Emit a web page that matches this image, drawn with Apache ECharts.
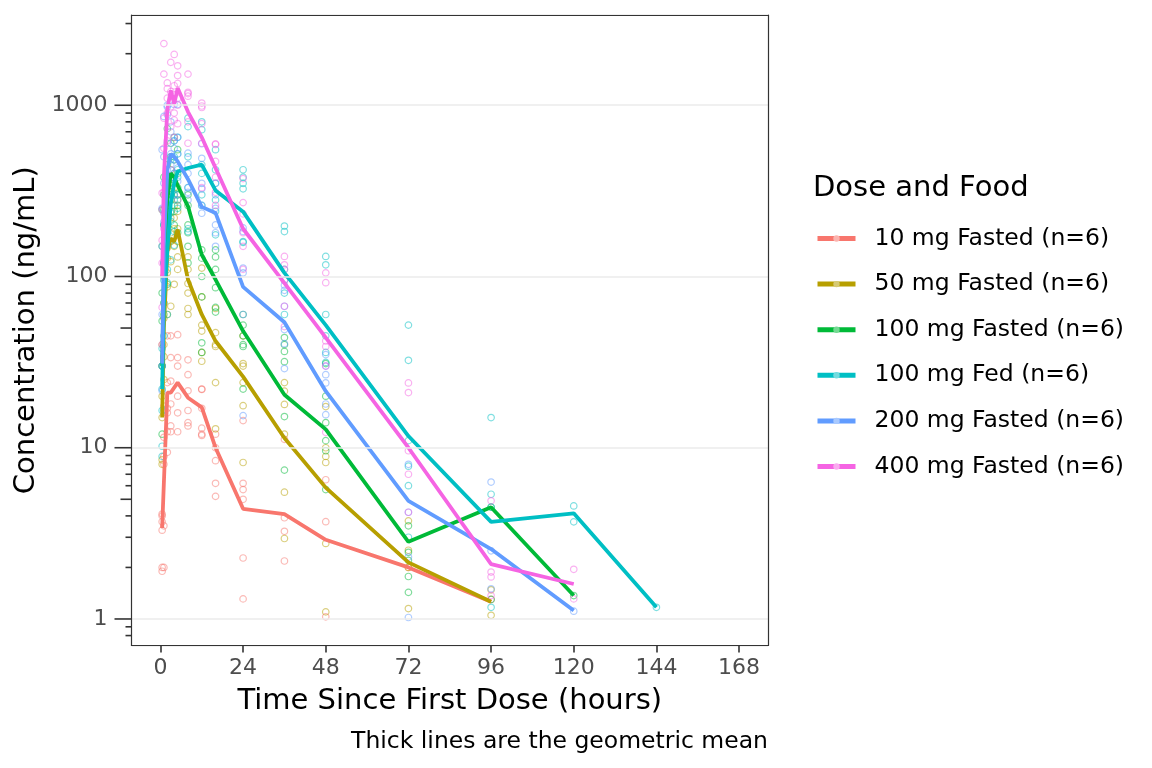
<!DOCTYPE html>
<html>
<head>
<meta charset="utf-8">
<script src="https://cdn.jsdelivr.net/npm/echarts@6/dist/echarts.min.js"></script>
<style>
  html, body { margin: 0; padding: 0; background: #fff; }
  #chart { width: 1152px; height: 768px; }
</style>
</head>
<body>
<div id="chart"></div>
<script>
// nominal sampling times (hours)
const sampleTimes = [0.5, 1, 2, 3, 4, 5, 8, 12, 16, 24, 36, 48, 72, 96, 120, 144];

const groupNames = [
  '10 mg Fasted (n=6)', '50 mg Fasted (n=6)', '100 mg Fasted (n=6)',
  '100 mg Fed (n=6)', '200 mg Fasted (n=6)', '400 mg Fasted (n=6)'
];
const groupColors = ['#F8766D', '#B79F00', '#00BA38', '#00BFC4', '#619CFF', '#F564E3'];

// geometric means, one value per sample time (null = no mean drawn there)
const mean10   = [3.4, null, 21, 21, null, 24, 19.6, 17.2, 10, 4.4, 4.1, 2.9, 2.0, 1.26, null, null];
const mean50   = [15, 50, 140, 167, 160, 188, 96, 60, 42, 26, 11.4, 5.85, 2.14, 1.26, null, null];
const mean100  = [30, 100, 280, 400, 380, 340, 257, 134, 96, 48, 20.4, 12.8, 2.82, 4.49, 1.37, null];
const mean100fed = [22, 70, 140, 268, 351, 410, 430, 450, 318, 239, 105, 52, 11.7, 3.69, 4.14, 1.17];
const mean200  = [31, 150, 420, 520, 500, 470, 370, 255, 235, 87, 54, 21.4, 4.89, 2.56, 1.12, null];
const mean400  = [100, 380, 950, 1220, 1020, 1260, 915, 650, 430, 190, 91.5, 44, 10, 2.09, 1.6, null];

// individual concentrations, one row per sample time
const obs10 = [
  [4.1, 3.7, 3.3, 2.0, 1.9, 4.0],
  [8.9, 11.5, 17.5, 3.5, 8.0, 2.0],
  [17, 45, 12.4, 9.4, 24, 16],
  [45, 33.6, 24.5, 13.4, 18, 12.4],
  [],
  [45.7, 33.6, 12.4, 20, 16, 30],
  [32.6, 26.7, 21.5, 16.5, 14, 13.4],
  [21.9, 12, 11.8, 17, 22, 13],
  [8.4, 6.2, 5.2, 12, 10],
  [14.4, 6.2, 5.7, 5.0, 2.27, 1.31],
  [11.2, 3.9, 3.25, 2.18],
  [6.5, 3.7, 1.03],
  [2.0],
  [1.3],
  [],
  []
];
const obs50 = [
  [8.0, 8.5, 20, 40, 15, 30],
  [57, 40, 34, 100, 70, 25],
  [147, 128, 105, 87, 200, 60],
  [220, 122, 67, 160, 300, 180],
  [220, 150, 260, 90, 190, 330],
  [190, 240, 130, 280, 160, 110],
  [110, 91, 65, 130, 80, 60],
  [112, 76, 52, 48, 36, 32],
  [47, 40, 24, 12.9, 39, 65],
  [31, 24, 17.6, 8.2, 30, 45],
  [24, 21.4, 17.9, 5.5, 2.95, 12],
  [17.4, 10, 8.9, 8.2, 2.76, 1.1],
  [3.74, 2.52, 1.15, 2.0],
  [1.48, 1.05],
  [],
  []
];
const obs100 = [
  [12, 245, 30, 80, 150, 55],
  [380, 120, 245, 60, 200, 300],
  [730, 340, 180, 260, 450, 90],
  [340, 500, 420, 240, 600, 280],
  [240, 480, 350, 300, 650, 200],
  [400, 260, 330, 550, 180, 300],
  [200, 260, 300, 180, 150, 120],
  [143, 128, 100, 76, 41, 36],
  [143, 110, 86, 66, 62, 130],
  [52, 45, 39, 22, 60, 40],
  [44, 40, 36.5, 31.8, 15.2, 7.4],
  [31, 20, 11, 9.6, 5.7, 14],
  [2.45, 1.77, 1.43, 3.5, 2.2],
  [4.5, 1.3],
  [1.37],
  []
];
const obs100fed = [
  [16.5, 22, 8.9, 10.2, 38, 30],
  [70, 120, 45, 16.6, 95, 200],
  [299, 110, 92, 180, 250, 60],
  [235, 125, 350, 480, 300, 210],
  [183, 152, 500, 620, 400, 280],
  [420, 650, 300, 520, 250, 380],
  [840, 750, 500, 183, 190, 330],
  [800, 720, 450, 400, 300, 260],
  [550, 175, 350, 420, 280, 240],
  [420, 350, 325, 158, 160, 380],
  [197, 183, 95, 60, 80, 110],
  [131, 117, 36, 31.5, 60, 45],
  [52, 32.4, 7.8, 6.0, 3.0, 11],
  [15, 5.35, 1.17, 4.5],
  [4.57, 3.69],
  [1.17]
];
const obs200 = [
  [21.5, 60, 150, 550, 30, 250],
  [860, 500, 234, 208, 350, 120],
  [980, 1000, 880, 600, 420, 300],
  [350, 700, 520, 450, 800, 380],
  [1010, 620, 480, 400, 300, 560],
  [1010, 520, 650, 430, 360, 280],
  [525, 330, 310, 450, 280, 400],
  [596, 490, 350, 325, 234, 260],
  [350, 300, 250, 200, 180, 150],
  [192, 183, 112, 105, 15.4, 60],
  [89, 83, 67, 49, 40.5, 29],
  [35, 26.7, 23.9, 15.6, 30, 18],
  [4.2, 2.3, 1.02, 8],
  [6.3, 1.5, 2.5],
  [1.11],
  []
];
const obs400 = [
  [66, 163, 245, 307, 120, 40],
  [2290, 1520, 310, 840, 560, 190],
  [1100, 1350, 900, 1250, 620, 480],
  [1780, 1200, 1050, 980, 750, 420],
  [1980, 820, 650, 1150, 1300, 900],
  [1700, 1490, 1340, 1100, 1000, 780],
  [1520, 1190, 1130, 600, 1170, 800],
  [1030, 970, 990, 330, 600, 780],
  [590, 595, 470, 380, 310, 260],
  [373, 270, 232, 180, 150, 110],
  [131, 117, 67, 51, 110, 95],
  [105, 92, 42, 39, 12.3, 30],
  [23.9, 21, 9.6, 7, 4.2],
  [4.9, 1.88, 1.76, 1.37],
  [1.95, 1.31],
  []
];

const xTicks = [0, 24, 48, 72, 96, 120, 144, 168];
const logTicks = [0.8, 0.9, 1, 2, 3, 4, 5, 6, 7, 8, 9, 10, 20, 30, 40, 50, 60, 70, 80, 90,
  100, 200, 300, 400, 500, 600, 700, 800, 900, 1000, 2000, 3000];

const means = [mean10, mean50, mean100, mean100fed, mean200, mean400];
const observations = [obs10, obs50, obs100, obs100fed, obs200, obs400];

const xMin = -8.4, xMax = 176.4;
const yMin = 0.70, yMax = 3365;
const font = 'DejaVu Sans';

// half way between colour and white, for the legend dots
function lighten(hex) {
  const n = parseInt(hex.slice(1), 16);
  const r = (n >> 16) & 255, g = (n >> 8) & 255, b = n & 255;
  const mix = c => Math.round(c + (255 - c) * 0.45);
  return 'rgb(' + mix(r) + ',' + mix(g) + ',' + mix(b) + ')';
}

const chart = echarts.init(document.getElementById('chart'));

const series = [];
observations.forEach((obs, g) => {
  const pts = [];
  sampleTimes.forEach((t, i) => obs[i].forEach(v => pts.push([t, v])));
  series.push({
    name: groupNames[g] + ' obs',
    type: 'scatter',
    data: pts,
    symbol: 'circle',
    symbolSize: 6.5,
    z: 2,
    silent: true,
    itemStyle: { color: 'rgba(0,0,0,0)', borderColor: groupColors[g], borderWidth: 1.2, opacity: 0.5 }
  });
});
means.forEach((m, g) => {
  const pts = [];
  sampleTimes.forEach((t, i) => { if (m[i] != null) pts.push([t, m[i]]); });
  series.push({
    name: groupNames[g],
    type: 'line',
    data: pts,
    symbol: 'circle',
    symbolSize: 6,
    showSymbol: false,
    z: 3,
    silent: true,
    color: groupColors[g],
    lineStyle: { width: 3.8, color: groupColors[g] }
  });
});
// annotation log ticks on the left edge
series.push({
  type: 'custom',
  silent: true,
  clip: false,
  z: 6,
  data: logTicks.map(v => [xMin, v]),
  renderItem: (params, api) => {
    const v = api.value(1);
    const p = api.coord([api.value(0), v]);
    const m = Math.round(v / Math.pow(10, Math.floor(Math.log10(v) + 1e-9)));
    const len = m === 1 ? 17 : (m === 5 ? 11 : 6);
    return {
      type: 'line',
      shape: { x1: p[0] - len, y1: p[1], x2: p[0], y2: p[1] },
      style: { stroke: '#333333', lineWidth: 1.6 }
    };
  }
});

const option = {
  animation: false,
  textStyle: { fontFamily: font },
  title: [
    { text: 'Dose and Food', left: 813, top: 174, padding: 0,
      textStyle: { fontSize: 29, fontWeight: 'normal', color: '#000', fontFamily: font } },
    { text: 'Thick lines are the geometric mean', right: 384, top: 730, padding: 0,
      textStyle: { fontSize: 23.5, fontWeight: 'normal', color: '#000', fontFamily: font } }
  ],
  legend: {
    data: groupNames.map((n, g) => ({ name: n, itemStyle: { color: lighten(groupColors[g]) } })),
    orient: 'vertical',
    left: 815,
    top: 226,
    padding: 0,
    itemWidth: 38,
    itemHeight: 8,
    itemGap: 20.6,
    selectedMode: false,
    lineStyle: { width: 5 },
    textStyle: { fontSize: 23.5, color: '#000', fontFamily: font, lineHeight: 25, padding: [0, 0, 0, 14] }
  },
  grid: { left: 131.5, right: 384, top: 15, bottom: 122.5 },
  xAxis: [
    {
      type: 'value', min: xMin, max: xMax, z: 4,
      name: 'Time Since First Dose (hours)',
      nameLocation: 'middle', nameGap: 41,
      nameTextStyle: { fontSize: 29, color: '#000', fontFamily: font },
      axisLine: { show: true, onZero: false, lineStyle: { color: '#333333', width: 1.2 } },
      axisTick: { show: true, length: 7, customValues: xTicks, lineStyle: { color: '#333333', width: 1.6 } },
      axisLabel: { customValues: xTicks, fontSize: 22, color: '#4D4D4D', margin: 12, fontFamily: font },
      splitLine: { show: false }
    },
    {
      type: 'value', min: xMin, max: xMax, position: 'top', z: 4,
      axisLine: { show: true, onZero: false, lineStyle: { color: '#333333', width: 1.2 } },
      axisTick: { show: false }, axisLabel: { show: false }, splitLine: { show: false }
    }
  ],
  yAxis: [
    {
      type: 'log', logBase: 10, min: yMin, max: yMax, z: 4,
      name: 'Concentration (ng/mL)',
      nameLocation: 'middle', nameGap: 85,
      nameTextStyle: { fontSize: 29, color: '#000', fontFamily: font },
      axisLine: { show: true, onZero: false, lineStyle: { color: '#333333', width: 1.2 } },
      axisTick: { show: false },
      axisLabel: {
        fontSize: 22, color: '#4D4D4D', margin: 24, fontFamily: font,
        formatter: v => {
          const l = Math.log10(v);
          return Math.abs(l - Math.round(l)) < 1e-6 ? String(Math.round(v)) : '';
        }
      },
      splitLine: { show: true, lineStyle: { color: '#EBEBEB', width: 1.6 } }
    },
    {
      type: 'log', logBase: 10, min: yMin, max: yMax, position: 'right', z: 4,
      axisLine: { show: true, onZero: false, lineStyle: { color: '#333333', width: 1.2 } },
      axisTick: { show: false }, axisLabel: { show: false }, splitLine: { show: false }
    }
  ],
  series: series
};
chart.setOption(option);
</script>
</body>
</html>
